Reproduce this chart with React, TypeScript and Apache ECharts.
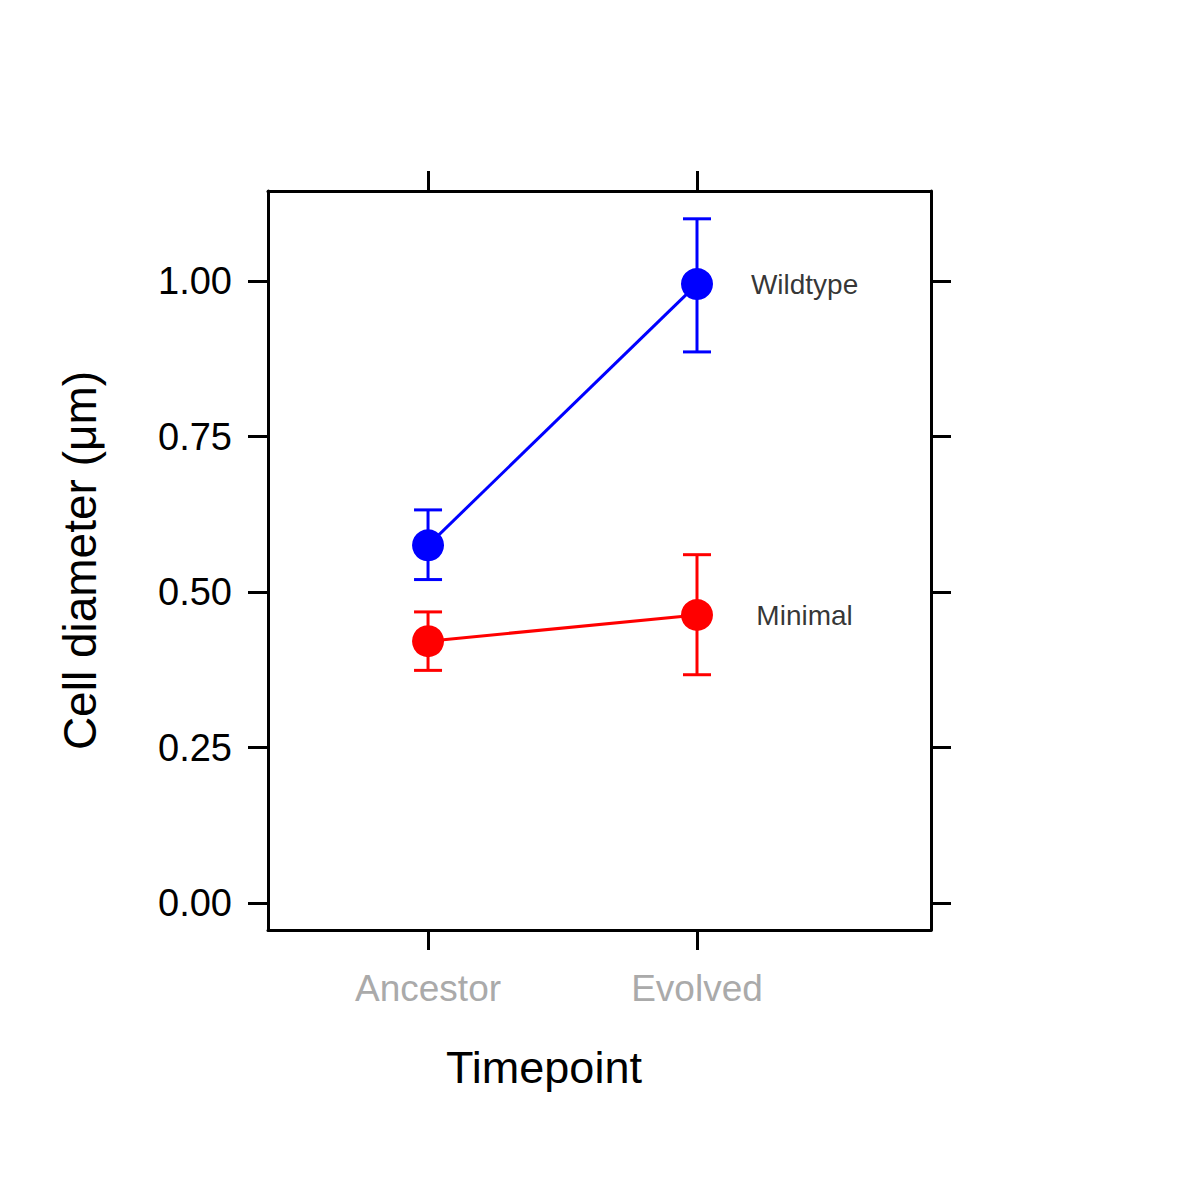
import React, { useEffect, useRef } from "react";
import * as echarts from "echarts";

const categories = ["Ancestor", "Evolved"];
const wildMean = [0.575, 0.995];
const wildLow = [0.52, 0.886];
const wildHigh = [0.632, 1.1];
const minMean = [0.421, 0.463];
const minLow = [0.374, 0.367];
const minHigh = [0.468, 0.56];
const yTicks = [0, 0.25, 0.5, 0.75, 1.0];

const FONT = "Liberation Sans, Arial, sans-serif";

export default function App() {
  const ref = useRef<HTMLDivElement>(null);
  useEffect(() => {
    const chart = echarts.init(ref.current!, null, { renderer: "svg" });
    const errSeries = (low: number[], high: number[], color: string) => ({
      type: "custom",
      xAxisIndex: 0,
      yAxisIndex: 0,
      data: low.map((l, i) => [i + 1, l, high[i]]),
      renderItem: (params: any, api: any) => {
        const x = api.value(0);
        const lo = api.coord([x, api.value(1)]);
        const hi = api.coord([x, api.value(2)]);
        const w = 14;
        const st = { stroke: color, lineWidth: 3 };
        return {
          type: "group",
          children: [
            { type: "line", shape: { x1: lo[0], y1: lo[1], x2: hi[0], y2: hi[1] }, style: st },
            { type: "line", shape: { x1: lo[0] - w, y1: lo[1], x2: lo[0] + w, y2: lo[1] }, style: st },
            { type: "line", shape: { x1: hi[0] - w, y1: hi[1], x2: hi[0] + w, y2: hi[1] }, style: st },
          ],
        };
      },
      z: 2,
    });
    const lineSeries = (vals: number[], color: string) => ({
      type: "line",
      data: vals.map((v, i) => [i + 1, v]),
      symbol: "circle",
      symbolSize: 32,
      lineStyle: { color, width: 3 },
      itemStyle: { color },
      z: 3,
    });
    const labelSeries = (name: string, y: number) => ({
      type: "scatter",
      data: [[2.4, y]],
      symbolSize: 0,
      label: {
        show: true, position: "inside", formatter: name, color: "#000",
        fontSize: 28, fontFamily: FONT, textBorderWidth: 0,
      },
      z: 4,
    });
    const axisLine = { show: true, onZero: false, lineStyle: { color: "#000", width: 3 } };
    const tickStyle = { lineStyle: { color: "#000", width: 3 }, length: 20 };
    const xBase = { type: "value", min: 0.405, max: 2.87, splitLine: { show: false }, axisLine };
    const yBase = { type: "value", min: -0.0434, max: 1.1447, splitLine: { show: false }, axisLine };
    chart.setOption({
      animation: false,
      grid: { left: 268, top: 191, width: 663, height: 739 },
      graphic: [
        {
          type: "text",
          left: 550 - 104,
          top: 1045,
          style: { text: "Timepoint", fill: "#000", fontSize: 45, fontFamily: FONT },
        },
      ],
      xAxis: [
        {
          ...xBase,
          position: "bottom",
          axisTick: { show: true, customValues: [1, 2], ...tickStyle },
          axisLabel: {
            customValues: [1, 2],
            formatter: (v: number) => categories[Math.round(v) - 1],
            color: "#aaaaaa",
            fontSize: 37,
            fontFamily: FONT,
            margin: 40,
          },
        },
        {
          ...xBase,
          position: "top",
          axisTick: { show: true, customValues: [1, 2], ...tickStyle },
          axisLabel: { show: false },
        },
      ],
      yAxis: [
        {
          ...yBase,
          position: "left",
          axisTick: { show: true, customValues: yTicks, ...tickStyle },
          axisLabel: {
            customValues: yTicks,
            formatter: (v: number) => v.toFixed(2),
            color: "#000",
            fontSize: 38,
            fontFamily: FONT,
            margin: 36,
          },
          name: "Cell diameter (\u03bcm)",
          nameLocation: "middle",
          nameGap: 165,
          nameRotate: 90,
          nameTextStyle: { color: "#000", fontSize: 46, fontFamily: FONT },
        },
        {
          ...yBase,
          position: "right",
          axisTick: { show: true, customValues: yTicks, ...tickStyle },
          axisLabel: { show: false },
        },
      ],
      series: [
        errSeries(wildLow, wildHigh, "#0000ff"),
        errSeries(minLow, minHigh, "#ff0000"),
        lineSeries(wildMean, "#0000ff"),
        lineSeries(minMean, "#ff0000"),
        labelSeries("Wildtype", wildMean[1]),
        labelSeries("Minimal", minMean[1]),
      ],
    });
    return () => chart.dispose();
  }, []);
  return (
    <div
      ref={ref}
      style={{ position: "fixed", left: 0, top: 0, width: 1200, height: 1200, background: "#fff" }}
    />
  );
}
